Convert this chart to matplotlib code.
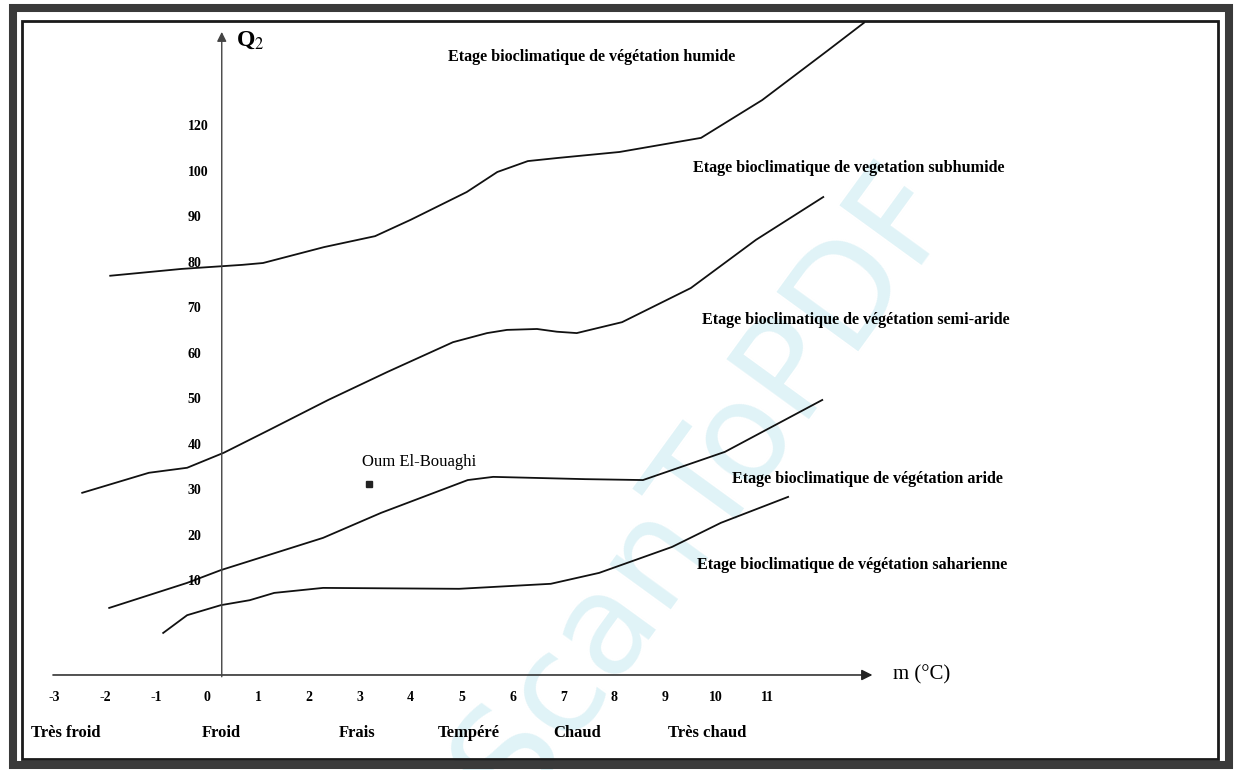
import matplotlib.pyplot as plt
from matplotlib.patches import Rectangle

plt.rcParams['font.family'] = ['Liberation Serif', 'DejaVu Serif']
plt.rcParams['mathtext.fontset'] = 'stix'

# Emberger climagram: Q2 against m, mean minimum of the coldest month (°C)
m_ticks = [-3, -2, -1, 0, 1, 2, 3, 4, 5, 6, 7, 8, 9, 10, 11]
m_labels = ['-3', '-2', '-1', '0', '1', '2', '3', '4', '5', '6', '7', '8', '9', '10', '11']
q_ticks = [10, 20, 30, 40, 50, 60, 70, 80, 90, 100, 110]
q_labels = ['10', '20', '30', '40', '50', '60', '70', '80', '90', '100', '120']

winter_labels = ['Très froid', 'Froid', 'Frais', 'Tempéré', 'Chaud', 'Très chaud']

# stage boundaries
humid_m = [-1.9, -0.5, 0.7, 1.1, 2.3, 3.3, 4.0, 5.1, 5.7, 6.3, 6.9, 8.1, 9.7, 10.9, 12.2, 12.9]
humid_q = [77.3, 78.8, 79.7, 80.1, 83.6, 86.0, 89.6, 95.7, 100.1, 102.5, 103.2, 104.5, 107.6, 115.9, 126.9, 132.9]

subhumid_m = [-2.45, -1.14, -0.39, 0.33, 1.22, 2.38, 3.55, 4.83, 5.50, 5.89, 6.48, 6.87, 7.26, 8.15, 9.50, 10.78, 12.10]
subhumid_q = [29.6, 34.0, 35.1, 38.4, 43.4, 50.0, 56.2, 62.7, 64.7, 65.4, 65.6, 65.0, 64.7, 67.1, 74.6, 85.2, 94.6]

semiarid_m = [-1.92, -0.39, 0.27, 2.28, 3.42, 5.12, 5.62, 7.42, 8.56, 10.17, 12.08]
semiarid_q = [4.3, 9.8, 12.6, 19.7, 25.2, 32.4, 33.1, 32.6, 32.4, 38.6, 50.0]

arid_m = [-0.86, -0.39, 0.27, 0.84, 1.32, 2.28, 4.95, 6.75, 7.70, 9.13, 10.09, 11.41]
arid_q = [-1.2, 2.7, 4.9, 6.0, 7.6, 8.7, 8.5, 9.6, 12.0, 17.7, 23.0, 28.7]

stage_labels = [
    'Etage bioclimatique de végétation humide',
    'Etage bioclimatique de vegetation subhumide',
    'Etage bioclimatique de végétation semi-aride',
    'Etage bioclimatique de végétation aride',
    'Etage bioclimatique de végétation saharienne',
]

station_name = 'Oum El-Bouaghi'
station_m = 3.18
station_q = 31.5

W, H = 1236, 770
fig = plt.figure(figsize=(W / 100, H / 100), dpi=100)
ax = fig.add_axes([0, 0, 1, 1])
ax.set_xlim(-4.064, 20.204)
ax.set_ylim(-31.32, 137.9)
ax.axis('off')


def px(x, y):
    return x / W, 1 - y / H


# double border
x0, y0 = px(13, 765)
x1, y1 = px(1229, 8)
ax.add_patch(Rectangle((x0, y0), x1 - x0, y1 - y0, transform=ax.transAxes,
                       fill=False, lw=5.8, ec='#3a3a3a', clip_on=False))
x0, y0 = px(22, 759)
x1, y1 = px(1218, 21)
ax.add_patch(Rectangle((x0, y0), x1 - x0, y1 - y0, transform=ax.transAxes,
                       fill=False, lw=2.0, ec='#1a1a1a', clip_on=False))

# watermark
ax.text(*px(705, 485), 'ScanToPDF', transform=ax.transAxes, rotation=54,
        fontsize=100, family='DejaVu Sans', color='#e0f3f7',
        ha='center', va='center', zorder=0, clip_on=True)

# axes with arrows
x_axis_q = -10.44
y_axis_m = 0.29
ax.annotate('', xy=(13.12, x_axis_q), xytext=(-3.08, x_axis_q),
            arrowprops=dict(arrowstyle='-|>', lw=1.1, color='#222222', mutation_scale=16))
ax.annotate('', xy=(y_axis_m, 131.5), xytext=(y_axis_m, x_axis_q - 1),
            arrowprops=dict(arrowstyle='-|>', lw=1.0, color='#444444', mutation_scale=14))
ax.text(0.57, 129.1, r'Q$_2$', fontsize=17, fontweight='bold', va='center', ha='left')
ax.text(13.47, x_axis_q, 'm (°C)', fontsize=15, va='center', ha='left')

for m, lab in zip(m_ticks, m_labels):
    ax.text(m, -15.3, lab, fontsize=10, fontweight='bold', ha='center', va='center')
for q, lab in zip(q_ticks, q_labels):
    ax.text(-0.38, q, lab, fontsize=10, fontweight='bold', ha='left', va='center')

winter_x = [-2.77, 0.29, 2.95, 5.14, 7.26, 9.82]
for xm, lab in zip(winter_x, winter_labels):
    ax.text(xm, -23.2, lab, fontsize=12, fontweight='bold', ha='center', va='center')

for xs, ys in [(humid_m, humid_q), (subhumid_m, subhumid_q),
               (semiarid_m, semiarid_q), (arid_m, arid_q)]:
    ax.plot(xs, ys, color='#111111', lw=1.3, solid_joinstyle='round')

stage_xy = [(4.73, 125.4), (9.54, 101.0), (9.72, 67.6), (10.31, 32.6), (9.62, 13.7)]
for (xm, yq), lab in zip(stage_xy, stage_labels):
    ax.text(xm, yq, lab, fontsize=11.6, fontweight='bold', ha='left', va='center')

ax.plot(station_m, station_q, 's', color='#222222', ms=5)
ax.text(3.04, 36.4, station_name, fontsize=12, ha='left', va='center')

fig.savefig('out.png', dpi=100)
